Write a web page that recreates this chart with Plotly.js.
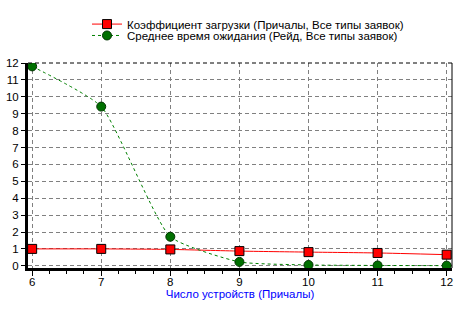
<!DOCTYPE html>
<html><head><meta charset="utf-8">
<script src="https://cdn.plot.ly/plotly-3.0.1.min.js"></script>
<style>body{margin:0;background:#fff}#chart{width:462px;height:316px}</style>
</head><body><div id="chart"></div>
<script>
const devices = [6, 7, 8, 9, 10, 11, 12];
const loadFactor = [1.0, 1.0, 0.97, 0.87, 0.81, 0.76, 0.66];
const avgWait = [11.8, 9.42, 1.72, 0.23, 0.05, 0.02, 0.01];
const seriesNames = ['Коэффициент загрузки (Причалы, Все типы заявок)', 'Среднее время ожидания (Рейд, Все типы заявок)'];
const xTitle = 'Число устройств (Причалы)';
const yTicks = [0,1,2,3,4,5,6,7,8,9,10,11,12];

const traces = [
  {x: devices, y: loadFactor, name: seriesNames[0], type: 'scatter', mode: 'lines+markers', legend: 'legend',
   line: {color: '#ff0000', width: 1, shape: 'spline', smoothing: 0.5},
   marker: {symbol: 'square', size: 9, color: '#ff0000', line: {color: '#000', width: 1}}},
  {x: devices, y: avgWait, name: seriesNames[1], type: 'scatter', mode: 'lines+markers', legend: 'legend2',
   line: {color: '#008000', width: 1, dash: '3px,3px', shape: 'spline', smoothing: 0.5},
   marker: {symbol: 'circle', size: 9, color: '#007000', line: {color: '#003300', width: 1}}}
];
const legendCommon = {xanchor: 'left', yanchor: 'middle', bgcolor: 'rgba(0,0,0,0)', font: {size: 11.5}, itemwidth: 30};
const layout = {
  width: 462, height: 316,
  margin: {l: 28, r: 10, t: 52, b: 48},
  paper_bgcolor: '#fff', plot_bgcolor: '#fff',
  font: {family: 'Arial, "Liberation Sans", sans-serif', size: 11.5, color: '#000'},
  showlegend: true,
  legend: Object.assign({x: (87 - 28) / 424, y: 1 + (52 - 11) / 216}, legendCommon),
  legend2: Object.assign({x: (87 - 28) / 424, y: 1 + (52 - 23) / 216}, legendCommon),
  xaxis: {range: [5.94, 12.077], tickvals: devices, ticks: 'outside', ticklen: 5, tickcolor: '#000',
          ticklabelstandoff: -4,
          showline: true, linewidth: 3, linecolor: '#000', zeroline: false,
          showgrid: true, gridcolor: '#808080', griddash: '4px,3px', gridwidth: 1,
          minor: {dtick: 0.25, ticks: 'outside', ticklen: 3, tickcolor: '#000', showgrid: false},
          title: {text: xTitle, font: {color: '#0000ff', size: 11.5}, standoff: 4}},
  yaxis: {range: [-0.13, 12], tickvals: yTicks, ticks: 'outside', ticklen: 4, tickcolor: '#000',
          showline: true, linewidth: 3, linecolor: '#000', zeroline: false,
          showgrid: true, gridcolor: '#808080', griddash: '4px,3px', gridwidth: 1},
  shapes: [
    {type: 'line', xref: 'paper', yref: 'paper', x0: 0, x1: 1, y0: 1, y1: 1, line: {color: '#000', width: 1, dash: '4px,3px'}},
    {type: 'line', xref: 'paper', yref: 'paper', x0: 1, x1: 1, y0: 0, y1: 1, line: {color: '#000', width: 1}}
  ]
};
Plotly.newPlot('chart', traces, layout, {displayModeBar: false, staticPlot: true});
</script></body></html>
